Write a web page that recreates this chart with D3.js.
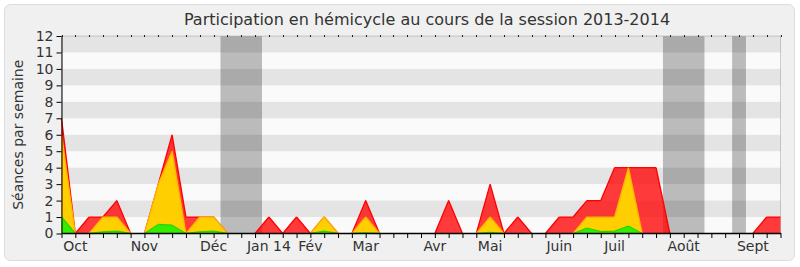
<!DOCTYPE html>
<html>
<head>
<meta charset="utf-8">
<script src="https://cdn.jsdelivr.net/npm/d3@7"></script>
<style>
  body { margin: 0; background: #ffffff; }
  svg { display: block; font-family: "DejaVu Sans", sans-serif; }
</style>
</head>
<body>
<div id="chart"></div>
<script>
// Participation chart, one point per week of the session

// week index of each point (0 = first week of the session)
var semaines = d3.range(0, 53);

// présences (red), interventions (yellow), questions (green)
var presences = [7,0,1,1,2,0,0,3,6,1,1,1,0,0,0,1,0,1,0,1,0,0,2,0,0,0,0,0,2,0,0,3,0,1,0,0,1,1,2,2,4,4,4,4,0,0,0,0,0,0,0,1,1];
var interventions = [6,0,0,1,1,0,0,3,5,0,1,1,0,0,0,0,0,0,0,1,0,0,1,0,0,0,0,0,0,0,0,1,0,0,0,0,0,0,1,1,1,4,0,0,0,0,0,0,0,0,0,0,0];
var questions = [1,0,0,0.1,0.15,0,0,0.55,0.5,0,0.1,0.15,0,0,0,0,0,0,0,0.15,0,0,0.03,0,0,0,0,0,0,0,0,0.07,0,0,0,0,0,0,0.33,0.12,0.14,0.45,0,0,0,0,0,0,0,0,0,0,0];

// parliamentary holidays, in weeks
var vacances = [[11.5, 14.5], [43.5, 46.5], [48.5, 49.5]];

// month labels and the week they sit under
var moisLabels = ["Oct", "Nov", "Déc", "Jan 14", "Fév", "Mar", "Avr", "Mai", "Juin", "Juil", "Août", "Sept"];
var moisSemaines = [1, 6, 11, 15, 18, 22, 27, 31, 36, 40, 45, 50];

var yTicks = d3.range(0, 13);

var width = 800;
var height = 267;

// plot area
var plotLeft = 61.5;
var plotRight = 780.5;
var plotTop = 36;
var plotBottom = 233.5;

var svg = d3
  .select("#chart")
  .append("svg")
  .attr("width", width)
  .attr("height", height);

// rounded frame around everything
svg.append("rect")
  .attr("x", 4.5)
  .attr("y", 4.5)
  .attr("width", 790)
  .attr("height", 256)
  .attr("rx", 6)
  .attr("fill", "#f0f0f0")
  .attr("stroke", "#dcdcdc");

var x = d3.scaleLinear().domain([0, 52]).range([plotLeft, plotRight]);
var y = d3.scaleLinear().domain([0, 12]).range([plotBottom, plotTop]);

// plot background
svg.append("rect")
  .attr("x", plotLeft)
  .attr("y", plotTop)
  .attr("width", plotRight - plotLeft)
  .attr("height", plotBottom - plotTop)
  .attr("fill", "#fafafa")
  .attr("stroke", "#cccccc");

// holidays
svg.selectAll(".vacances")
  .data(vacances)
  .enter()
  .append("rect")
  .attr("class", "vacances")
  .attr("x", function(d) { return x(d[0]); })
  .attr("y", plotTop)
  .attr("width", function(d) { return x(d[1]) - x(d[0]); })
  .attr("height", plotBottom - plotTop)
  .attr("fill", "#bbbbbb");

// grey stripes every other unit
svg.selectAll(".bande")
  .data(yTicks.filter(function(d) { return d % 2 == 1; }))
  .enter()
  .append("rect")
  .attr("class", "bande")
  .attr("x", plotLeft)
  .attr("y", function(d) { return y(d + 1); })
  .attr("width", plotRight - plotLeft)
  .attr("height", function(d) { return y(d) - y(d + 1); })
  .attr("fill", "rgba(0,0,0,0.085)");

// the three series, drawn over each other from zero
var series = [
  { values: presences, fill: "rgba(255,0,0,0.77)", stroke: "#ff0000" },
  { values: interventions, fill: "rgba(255,212,0,0.97)", stroke: "#ffb400" },
  { values: questions, fill: "#33ee00", stroke: "#2bd400" }
];

var area = d3.area()
  .x(function(d) { return x(d[0]); })
  .y0(y(0))
  .y1(function(d) { return y(d[1]); });

var line = d3.line()
  .x(function(d) { return x(d[0]); })
  .y(function(d) { return y(d[1]); });

series.forEach(function(s) {
  var pts = semaines.map(function(w, i) { return [w, s.values[i]]; });
  svg.append("path")
    .attr("d", area(pts))
    .attr("fill", s.fill);
  // outline only where the series leaves zero
  var segs = d3.pairs(pts).filter(function(p) { return p[0][1] > 0 || p[1][1] > 0; });
  svg.append("path")
    .attr("d", segs.map(function(p) { return line(p); }).join(""))
    .attr("fill", "none")
    .attr("stroke", s.stroke)
    .attr("stroke-width", 1.3);
});

// small ticks along the top edge
svg.selectAll(".topTick")
  .data(semaines)
  .enter()
  .append("line")
  .attr("class", "topTick")
  .attr("x1", function(d) { return Math.round(x(d)) + 0.5; })
  .attr("x2", function(d) { return Math.round(x(d)) + 0.5; })
  .attr("y1", plotTop - 1)
  .attr("y2", plotTop + 1)
  .attr("stroke", "#222");

// bottom axis: one tick per week, no labels
var xAxis = svg.append("g")
  .attr("transform", "translate(0," + (plotBottom - 0.5) + ")")
  .call(d3.axisBottom(x).tickValues(semaines).tickSize(5).tickSizeOuter(0).tickFormat(""));
xAxis.selectAll("path, line").attr("stroke", "#000");
xAxis.select(".domain").attr("stroke-width", 1.3);

// month names
svg.selectAll(".mois")
  .data(moisLabels)
  .enter()
  .append("text")
  .attr("class", "mois")
  .attr("x", function(d, i) { return x(moisSemaines[i]); })
  .attr("y", 251)
  .attr("text-anchor", "middle")
  .attr("font-size", 14)
  .attr("fill", "#333")
  .text(function(d) { return d; });

// left axis
var yAxis = svg.append("g")
  .attr("transform", "translate(" + plotLeft + ",0)")
  .call(d3.axisLeft(y).tickValues(yTicks).tickSize(5).tickSizeOuter(0).tickPadding(3));
yAxis.selectAll("path, line").attr("stroke", "#000");
yAxis.selectAll("text")
  .attr("font-size", 14)
  .attr("font-family", "DejaVu Sans, sans-serif")
  .attr("fill", "#333");

// axis title
svg.append("text")
  .attr("transform", "translate(18," + ((plotTop + plotBottom) / 2) + ")rotate(-90)")
  .attr("text-anchor", "middle")
  .attr("dy", "0.35em")
  .attr("font-size", 14)
  .attr("fill", "#333")
  .text("Séances par semaine");

// chart title
svg.append("text")
  .attr("x", 427)
  .attr("y", 25)
  .attr("text-anchor", "middle")
  .attr("font-size", 16)
  .attr("fill", "#333")
  .text("Participation en hémicycle au cours de la session 2013-2014");
</script>
</body>
</html>
